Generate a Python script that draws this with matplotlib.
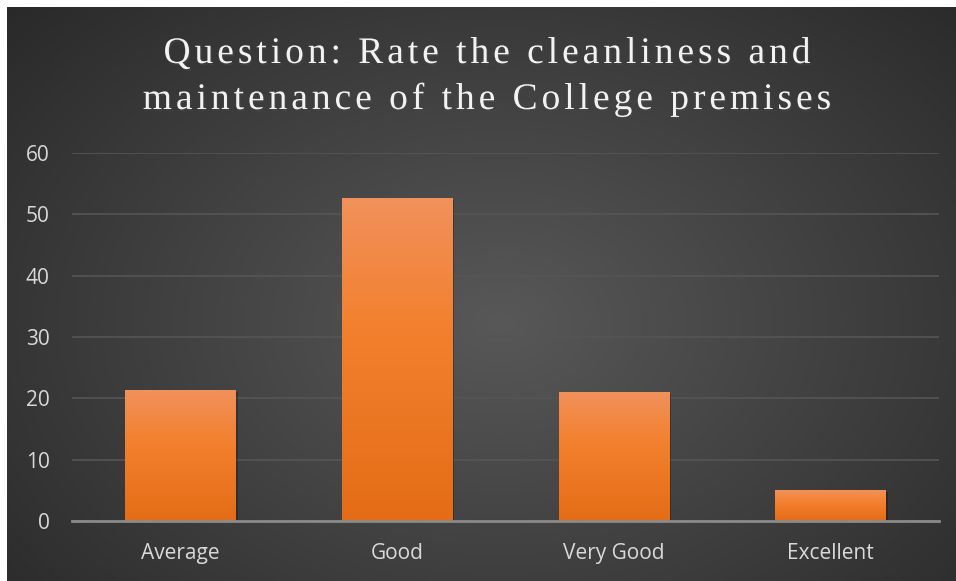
import numpy as np
import matplotlib
matplotlib.use("Agg")
import matplotlib.pyplot as plt
import matplotlib.patheffects as pe
from matplotlib.font_manager import FontProperties, findfont
from matplotlib.ft2font import FT2Font

categories = ["Average", "Good", "Very Good", "Excellent"]
values = [21.4, 52.7, 21.1, 5.0]
yticks = [0, 10, 20, 30, 40, 50, 60]
title_lines = ["Question: Rate the cleanliness and",
               "maintenance of the College premises"]

W, H = 956, 581
DPI = 100
fig = plt.figure(figsize=(W / DPI, H / DPI), dpi=DPI, facecolor="white")

# dark radial-gradient background panel
bg = fig.add_axes([7 / W, 0, 1 - 7 / W, 1 - 7 / H])
bg.set_axis_off()
yy, xx = np.mgrid[0:1:300j, 0:1:500j]
cx, cy = 0.52, 0.55
r = np.sqrt(((xx - cx) * 1.0) ** 2 + ((yy - cy) * 0.85) ** 2)
r = np.clip(r / 0.75, 0, 1)
lo, hi = np.array([38, 38, 38]) / 255, np.array([88, 88, 88]) / 255
img = hi[None, None, :] * (1 - r[..., None]) + lo[None, None, :] * r[..., None]
bg.imshow(img, extent=[0, 1, 0, 1], aspect="auto", origin="upper")
bg.set_xlim(0, 1)
bg.set_ylim(0, 1)

ax = fig.add_axes([72 / W, 1 - 521 / H, (939 - 72) / W, (521 - 153) / H])
ax.patch.set_alpha(0)
x = np.arange(len(categories))
bars = ax.bar(x, values, width=0.51, color="#EE7D31", zorder=3,
              path_effects=[pe.SimplePatchShadow(offset=(1.5, -1.5), shadow_rgbFace="black", alpha=0.25), pe.Normal()])

c_top = np.array([241, 145, 92]) / 255
c_mid = np.array([243, 128, 46]) / 255
c_bot = np.array([228, 108, 22]) / 255
cols = np.zeros((256, 1, 3))
for i in range(256):
    t = i / 255
    if t < 0.4:
        cols[i, 0] = c_top * (1 - t / 0.4) + c_mid * (t / 0.4)
    else:
        s = (t - 0.4) / 0.6
        cols[i, 0] = c_mid * (1 - s) + c_bot * s
for b in bars:
    x0, y0 = b.get_x(), b.get_y()
    w, h = b.get_width(), b.get_height()
    im = ax.imshow(cols, extent=[x0, x0 + w, y0, y0 + h], aspect="auto",
                   origin="upper", zorder=4)
    im.set_clip_path(b)

ax.set_xlim(-0.5, len(categories) - 0.5)
ax.set_ylim(0, 60)
ax.set_yticks(yticks)
ax.set_xticks(x)
ax.set_xticklabels(categories)
ax.grid(axis="y", color="#555555", linewidth=1.2, zorder=1)
ax.set_axisbelow(True)
for s in ["top", "right", "left"]:
    ax.spines[s].set_visible(False)
ax.spines["bottom"].set_color("#8a8a8a")
ax.spines["bottom"].set_linewidth(2)
ax.spines["bottom"].set_zorder(5)
ax.tick_params(axis="both", length=0, colors="#d9d9d9", labelsize=15)
ax.tick_params(axis="y", pad=16)
ax.tick_params(axis="x", pad=16)
for lab in ax.get_xticklabels() + ax.get_yticklabels():
    lab.set_family("Open Sans")

# title with letter spacing (drawn char by char)
tsize = 27
fp = FontProperties(family="Liberation Serif", size=tsize)
ft = FT2Font(findfont(fp))
ft.set_size(tsize, DPI)

def advances(s):
    out = []
    for ch in s:
        g = ft.load_char(ord(ch))
        out.append(g.linearHoriAdvance / 65536.0)
    return out

adv1 = advances(title_lines[0])
spacing = (647 - sum(adv1)) / (len(title_lines[0]) - 1)
baselines = [63, 109]
center_x = 487
shadow = [pe.SimplePatchShadow(offset=(1, -1.5), alpha=0.5), pe.Normal()]
for line, base in zip(title_lines, baselines):
    adv = advances(line)
    total = sum(adv) + spacing * (len(line) - 1)
    xpos = center_x - total / 2
    for ch, a in zip(line, adv):
        if ch != " ":
            fig.text(xpos / W, 1 - base / H, ch, ha="left", va="baseline",
                     color="#f2f2f2", fontproperties=fp, path_effects=shadow)
        xpos += a + spacing

fig.savefig("out.png", dpi=DPI, facecolor="white")
